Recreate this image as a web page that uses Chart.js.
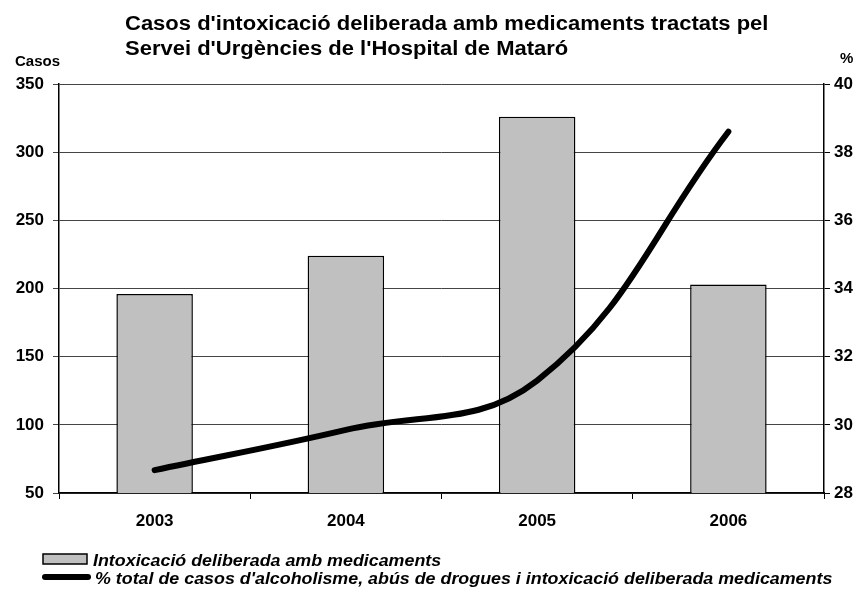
<!DOCTYPE html>
<html>
<head>
<meta charset="utf-8">
<script src="https://cdn.jsdelivr.net/npm/chart.js@4/dist/chart.umd.min.js"></script>
<style>
  html, body { margin: 0; padding: 0; background: #fff; }
  #wrap { position: relative; width: 862px; height: 589px; }
</style>
</head>
<body>
<div id="wrap"><canvas id="chart" width="862" height="589"></canvas></div>
<script>
const years = ['2003', '2004', '2005', '2006'];
const casos = [196, 224, 326, 203];
const percent = [28.67, 29.85, 31.3, 38.6];
const titleLines = ["Casos d'intoxicació deliberada amb medicaments tractats pel", "Servei d'Urgències de l'Hospital de Mataró"];
const barLabel = 'Intoxicació deliberada amb medicaments';
const lineLabel = "% total de casos d'alcoholisme, abús de drogues i intoxicació deliberada medicaments";

const FONT = '"Liberation Sans", Arial, sans-serif';

// text stretched a bit sideways, like the original export
function wideText(ctx, text, x, y, sx) {
    ctx.save();
    ctx.translate(x, y);
    ctx.scale(sx, 1);
    ctx.fillText(text, 0, 0);
    ctx.restore();
}

// title, axis captions and legend drawn by hand
const decorations = {
    id: 'decorations',
    afterDraw(chart) {
        const ctx = chart.ctx;
        ctx.save();
        ctx.fillStyle = '#000';
        ctx.textBaseline = 'alphabetic';
        ctx.textAlign = 'left';
        ctx.font = 'bold 20px ' + FONT;
        wideText(ctx, titleLines[0], 125, 29.5, 1.1);
        wideText(ctx, titleLines[1], 125, 55, 1.1);

        ctx.font = 'bold 15px ' + FONT;
        ctx.fillText('Casos', 15, 66);
        ctx.fillText('%', 840, 63);

        // legend
        ctx.fillStyle = '#c0c0c0';
        ctx.strokeStyle = '#000';
        ctx.lineWidth = 1.5;
        ctx.fillRect(43, 554, 44, 10);
        ctx.strokeRect(43, 554, 44, 10);
        ctx.lineWidth = 6;
        ctx.lineCap = 'round';
        ctx.beginPath();
        ctx.moveTo(45, 577);
        ctx.lineTo(88, 577);
        ctx.stroke();
        ctx.fillStyle = '#000';
        ctx.font = 'italic bold 17px ' + FONT;
        wideText(ctx, barLabel, 93, 566, 1.05);
        wideText(ctx, lineLabel, 95, 584, 1.05);
        ctx.restore();
    }
};

new Chart(document.getElementById('chart'), {
    data: {
        labels: years,
        datasets: [
            {
                type: 'line',
                label: lineLabel,
                data: percent,
                yAxisID: 'y1',
                borderColor: '#000',
                borderWidth: 6,
                borderCapStyle: 'round',
                tension: 0.4,
                pointRadius: 0,
                order: 0
            },
            {
                type: 'bar',
                label: barLabel,
                data: casos,
                yAxisID: 'y',
                backgroundColor: '#c0c0c0',
                borderColor: '#000',
                borderWidth: 1.5,
                barPercentage: 1,
                categoryPercentage: 0.4,
                order: 1
            }
        ]
    },
    options: {
        responsive: false,
        animation: false,
        layout: { padding: { top: 84, left: 0, right: 0, bottom: 62 } },
        plugins: {
            legend: { display: false },
            title: { display: false },
            tooltip: { enabled: false }
        },
        scales: {
            x: {
                afterFit: s => { s.height = 34; },
                grid: { offset: true, drawOnChartArea: false, color: '#000', tickLength: 6 },
                border: { color: '#000', width: 1.5 },
                ticks: { color: '#000', font: { family: FONT, size: 17, weight: 'bold' }, padding: 12 }
            },
            y: {
                position: 'left',
                min: 50,
                max: 350,
                afterFit: s => { s.width = 59; },
                grid: { color: '#444', lineWidth: 1, tickLength: 6 },
                border: { color: '#000', width: 1.5 },
                ticks: { stepSize: 50, color: '#000', font: { family: FONT, size: 17, weight: 'bold' }, padding: 9 }
            },
            y1: {
                position: 'right',
                min: 28,
                max: 40,
                afterFit: s => { s.width = 38; },
                grid: { drawOnChartArea: false, color: '#000', tickLength: 6 },
                border: { color: '#000', width: 1.5 },
                ticks: { stepSize: 2, color: '#000', font: { family: FONT, size: 17, weight: 'bold' }, padding: 4 }
            }
        }
    },
    plugins: [decorations]
});
</script>
</body>
</html>
